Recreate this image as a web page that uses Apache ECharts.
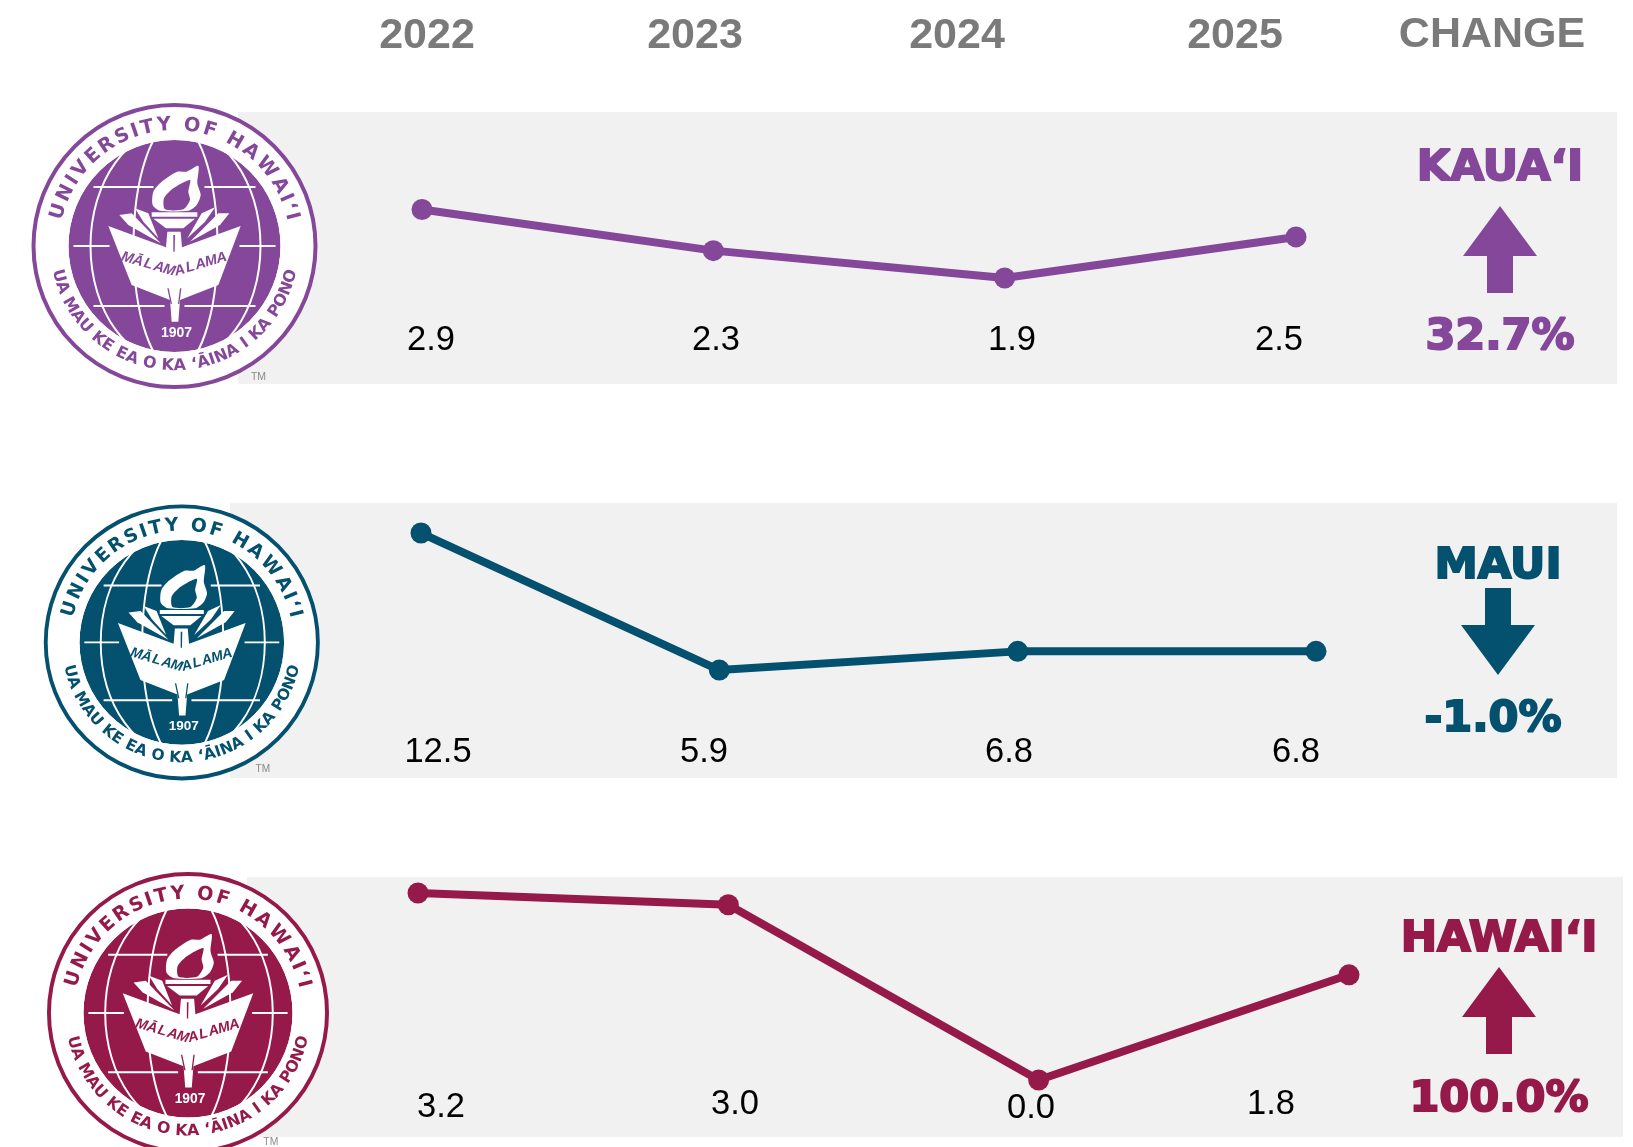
<!DOCTYPE html>
<html>
<head>
<meta charset="utf-8">
<title>UH campus change</title>
<script src="https://cdn.jsdelivr.net/npm/echarts@6/dist/echarts.min.js"></script>
<style>
  html, body { margin: 0; padding: 0; background: #fff; }
  #chart { width: 1633px; height: 1147px; }
</style>
</head>
<body>
<div id="chart"></div>
<script>
const years = ["2022", "2023", "2024", "2025"];
const changeTitle = "CHANGE";

const campusNames = ["KAUA‘I", "MAUI", "HAWAI‘I"];
const campusChange = ["32.7%", "-1.0%", "100.0%"];
const kauaiValues = [2.9, 2.3, 1.9, 2.5];
const mauiValues = [12.5, 5.9, 6.8, 6.8];
const hawaiiValues = [3.2, 3.0, 0.0, 1.8];
const campusValues = [kauaiValues, mauiValues, hawaiiValues];

const sealTop = "UNIVERSITY OF HAWAI‘I";
const sealBottom = "UA MAU KE EA O KA ‘ĀINA I KA PONO";
const sealMiddle = "MĀLAMALAMA";
const sealYear = "1907";

// page layout, in pixels
const panels = [
  {
    color: "#84479a", rect: [238, 112, 1379, 272],
    grid: { left: 422, right: 337, top: 202.7, height: 102.7 }, yMin: 1.5, yMax: 3,
    seal: [174.5, 246, 143],
    labels: [[431, 340], [716, 340], [1012, 340], [1279, 340]],
    name: [1500, 169], pct: [1500, 338],
    arrow: { x: 1500, tip: 206, base: 256, end: 293 },
  },
  {
    color: "#04506f", rect: [230, 503, 1387, 275],
    grid: { left: 421, right: 317, top: 501.9, height: 207.6 }, yMin: 4, yMax: 14,
    seal: [181.8, 642.4, 138],
    labels: [[438, 752], [704, 752], [1009, 752], [1296, 752]],
    name: [1498, 567], pct: [1493, 720],
    arrow: { x: 1498, tip: 675, base: 625, end: 588 },
  },
  {
    color: "#951a4a", rect: [247, 877, 1376, 260],
    grid: { left: 418, right: 284, top: 875.5, height: 204.5 }, yMin: 0, yMax: 3.5,
    seal: [188, 1013, 141],
    labels: [[441, 1107], [735, 1104], [1031, 1108], [1271, 1104]],
    name: [1499, 940], pct: [1499, 1100],
    arrow: { x: 1499, tip: 967, base: 1017, end: 1054 },
  },
];
const yearCenters = [427, 695, 957, 1235];

const measure = document.createElement("canvas").getContext("2d");

function txt(text, x, y, font, fill, rotation) {
  return {
    type: "text", x, y, rotation: rotation || 0, silent: true,
    style: { text, font, fill, align: "center", verticalAlign: "middle" },
  };
}

// same text, thickened with an outline to get close to the heavy face of the original
function heavyTxt(text, x, y, font, fill) {
  const el = txt(text, x, y, font, fill);
  el.style.stroke = fill;
  el.style.lineWidth = 2;
  return el;
}

// letters spread along an arc, angles in degrees from the vertical
function arcText(text, cx, cy, radius, span, font, fill, bottom) {
  measure.font = font;
  const widths = Array.from(text).map((c) => measure.measureText(c).width + 1);
  const total = widths.reduce((a, b) => a + b, 0);
  let run = 0;
  return Array.from(text).map((c, i) => {
    const a = ((run + widths[i] / 2) / total - 0.5) * span * Math.PI / 180;
    run += widths[i];
    return bottom
      ? txt(c, cx + radius * Math.sin(a), cy + radius * Math.cos(a), font, fill, a)
      : txt(c, cx + radius * Math.sin(a), cy - radius * Math.cos(a), font, fill, -a);
  });
}

function sealGraphics(cx, cy, r, color) {
  const s = r / 143;
  const els = [];
  // drawing offsets are taken from a 3x crop of the seal, centred on the disc
  const pt = (list) => list.map((p) => [cx + ((p[0] - 253.5) / 3) * s, cy + ((p[1] - 288) / 3) * s]);
  const poly = (list, fill, smooth) => els.push({
    type: "polygon", silent: true, shape: { points: pt(list), smooth: smooth || 0 }, style: { fill },
  });
  const line = (x1, y1, x2, y2, w) => els.push({
    type: "line", silent: true, shape: { x1: cx + x1 * s, y1: cy + y1 * s, x2: cx + x2 * s, y2: cy + y2 * s },
    style: { stroke: "#fff", lineWidth: w * s },
  });
  const ellipse = (rx, ry) => els.push({
    type: "ellipse", silent: true, shape: { cx: cx + 1 * s, cy, rx: rx * s, ry: ry * s },
    style: { fill: "none", stroke: "#fff", lineWidth: 2 * s },
  });

  els.push({ type: "circle", silent: true, shape: { cx, cy, r: r - 2 * s }, style: { fill: "#fff", stroke: color, lineWidth: 4 * s } });
  els.push({ type: "circle", silent: true, shape: { cx, cy, r: 106 * s }, style: { fill: color } });

  ellipse(85, 118);
  ellipse(42, 124);
  els.push({ type: "circle", silent: true, shape: { cx, cy, r: 118 * s }, style: { fill: "none", stroke: "#fff", lineWidth: 24 * s } });

  line(-81, -59, -21, -59, 2); line(30, -59, 81, -59, 2);
  line(-101, 0, -65, 0, 2); line(65, 0, 101, 0, 2);
  line(-81, 60, -10, 60, 2); line(10, 60, 81, 60, 2);

  // flame
  poly([[210, 182], [188, 165], [190, 125], [215, 95], [262, 65], [290, 65], [325, 48], [322, 100], [332, 135], [320, 165], [295, 182]], "#fff", 0.25);
  poly([[225, 178], [222, 145], [250, 115], [300, 90], [295, 125], [300, 150], [280, 178]], color, 0.25);
  // torch cup
  poly([[185, 187], [322, 187], [322, 200], [185, 200]], "#fff");
  poly([[190, 206], [315, 206], [280, 235], [228, 235]], "#fff");
  // leaves
  poly([[88, 195], [125, 190], [212, 280], [115, 225]], "#fff");
  poly([[135, 175], [175, 190], [205, 265], [160, 215]], "#fff");
  poly([[418, 190], [385, 190], [300, 275], [390, 225]], "#fff");
  poly([[375, 172], [335, 190], [292, 265], [345, 215]], "#fff");
  // book and stem
  poly([[55, 228], [228, 292], [232, 245], [272, 245], [276, 292], [452, 228], [385, 405], [270, 450], [265, 515], [245, 515], [240, 450], [125, 405]], "#fff");
  poly([[250, 255], [255, 255], [254, 305], [250, 305]], color);
  poly([[232, 415], [236, 415], [246, 462], [242, 462]], color);
  poly([[270, 415], [274, 415], [268, 462], [264, 462]], color);

  // MALAMALAMA sags in the middle of the open book
  const midChars = Array.from(sealMiddle);
  const midFont = "italic bold " + 14.5 * s + "px 'Liberation Sans'";
  midChars.forEach((c, i) => {
    const t = (i - (midChars.length - 1) / 2) / ((midChars.length - 1) / 2);
    const x = t * 47;
    const y = 12 + (1 - Math.abs(t)) * 14;
    els.push(txt(c, cx + x * s, cy + y * s, midFont, color, t < 0 ? -0.28 : 0.26));
  });

  els.push(txt(sealYear, cx + 2 * s, cy + 87 * s, "bold " + 14 * s + "px 'Liberation Sans'", "#fff"));

  arcText(sealTop, cx, cy, 121 * s, 156, "bold " + 19.5 * s + "px 'DejaVu Sans'", color, false).forEach((e) => els.push(e));
  arcText(sealBottom, cx, cy, 120 * s, 157, "bold " + 16 * s + "px 'DejaVu Sans'", color, true).forEach((e) => els.push(e));
  els.push(txt("TM", cx + 84 * s, cy + 131 * s, 10.5 * s + "px 'Liberation Sans'", "#8a8a8a"));
  return els;
}

function arrowPoints(a) {
  const head = 37, shaft = 13;
  return [[a.x, a.tip], [a.x + head, a.base], [a.x + shaft, a.base], [a.x + shaft, a.end], [a.x - shaft, a.end], [a.x - shaft, a.base], [a.x - head, a.base]];
}

const graphics = [];
const headFont = "bold 43px 'Liberation Sans'";
years.forEach((y, i) => graphics.push(txt(y, yearCenters[i], 36, headFont, "#7a7a7a")));
graphics.push(txt(changeTitle, 1492, 35, headFont, "#7a7a7a"));

panels.forEach((p) => {
  graphics.push({
    type: "rect", silent: true,
    shape: { x: p.rect[0], y: p.rect[1], width: p.rect[2], height: p.rect[3] },
    style: { fill: "#f1f1f1" },
  });
});
panels.forEach((p, i) => {
  sealGraphics(p.seal[0], p.seal[1], p.seal[2], p.color).forEach((e) => graphics.push(e));
  campusValues[i].forEach((v, j) => {
    graphics.push(txt(v.toFixed(1), p.labels[j][0], p.labels[j][1], "34.5px 'Liberation Sans'", "#000"));
  });
  graphics.push(heavyTxt(campusNames[i], p.name[0], p.name[1], "bold 43.5px 'DejaVu Sans'", p.color));
  graphics.push(heavyTxt(campusChange[i], p.pct[0], p.pct[1], "bold 43px 'DejaVu Sans'", p.color));
  graphics.push({ type: "polygon", silent: true, shape: { points: arrowPoints(p.arrow) }, style: { fill: p.color } });
});

const chart = echarts.init(document.getElementById("chart"));
chart.setOption({
  animation: false,
  backgroundColor: "#fff",
  grid: panels.map((p) => p.grid),
  xAxis: panels.map((p, i) => ({
    type: "category", gridIndex: i, data: years, boundaryGap: false, show: false,
  })),
  yAxis: panels.map((p, i) => ({
    type: "value", gridIndex: i, min: p.yMin, max: p.yMax, show: false,
  })),
  graphic: { elements: graphics },
  series: panels.map((p, i) => ({
    name: campusNames[i],
    type: "line",
    xAxisIndex: i,
    yAxisIndex: i,
    data: campusValues[i],
    symbol: "circle",
    symbolSize: 21,
    clip: false,
    lineStyle: { color: p.color, width: 8 },
    itemStyle: { color: p.color },
  })),
});
</script>
</body>
</html>
